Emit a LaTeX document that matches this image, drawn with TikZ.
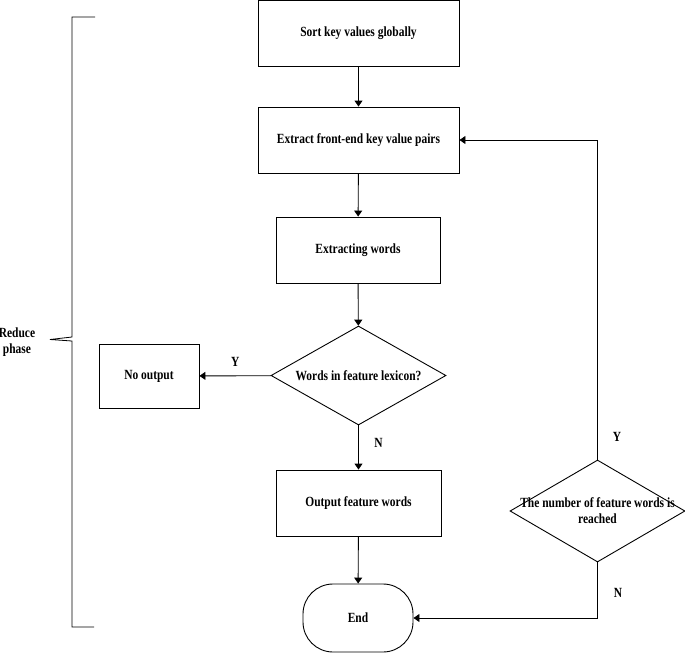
\documentclass[tikz,border=0pt]{standalone}
\usepackage{fontspec}
\setmainfont{Liberation Serif}[FakeStretch=0.82]
\usetikzlibrary{arrows.meta,shapes.geometric}
\begin{document}
\begin{tikzpicture}[x=1pt,y=-1pt,
  every node/.style={font=\fontsize{14}{16}\selectfont\bfseries},
  box/.style={draw, line width=0.9pt, inner sep=0pt, align=center},
  dia/.style={draw, line width=0.9pt, diamond, inner sep=0pt},
  lbl/.style={inner sep=0pt, align=center},
  conn/.style={line width=0.9pt, -{Triangle[width=8pt,length=6pt]}},
  plain/.style={line width=0.9pt}]
\useasboundingbox (0,0) rectangle (685,654);
% nodes
\node[box, minimum width=201pt, minimum height=66pt] (b1) at (358.5,33.5) {Sort key values globally};
\node[box, minimum width=201pt, minimum height=66pt] (b2) at (358.5,140) {Extract front-end key value pairs};
\node[box, minimum width=164pt, minimum height=66pt] (b3) at (358,250) {Extracting words};
\node[dia, minimum width=175pt, minimum height=99pt] (d1) at (358.5,375.5) {};
\node[lbl] (t1) at (d1.center) {Words in feature lexicon?};
\node[box, minimum width=100pt, minimum height=64pt] (no) at (149,376) {No output};
\node[box, minimum width=165pt, minimum height=66pt] (b4) at (358.5,503) {Output feature words};
\node[box, minimum width=110pt, minimum height=68pt, rounded corners=30pt] (end) at (358,618) {End};
\node[dia, minimum width=175pt, minimum height=102pt] (d2) at (597.5,511) {};
\node[lbl] (t2) at (d2.center) {The number of feature words is\\reached};
% connectors
\draw[conn] (b1) -- (b2);
\draw[conn] (b2) -- (b3);
\draw[conn] (b3) -- (d1);
\draw[conn] (d1) -- (no) node[midway, above=6pt] (ly1) {Y};
\draw[conn] (d1) -- (b4) node[pos=0.4, right=12pt] (ln1) {N};
\draw[conn] (b4) -- (end);
\draw[conn] (d2.north) |- (b2.east);
\draw[conn] (d2.south) |- (end.east);
\node (ly2) at (617,437) {Y};
\node (ln2) at (618,593) {N};
% brace
\draw[line width=0.8pt] (95,17) -- (72,17) -- (72,337) -- (50,339.5) -- (72,341) -- (72,627) -- (94,627);
\node[lbl] (rp) at (17,342) {Reduce\\phase};
\end{tikzpicture}
\end{document}
